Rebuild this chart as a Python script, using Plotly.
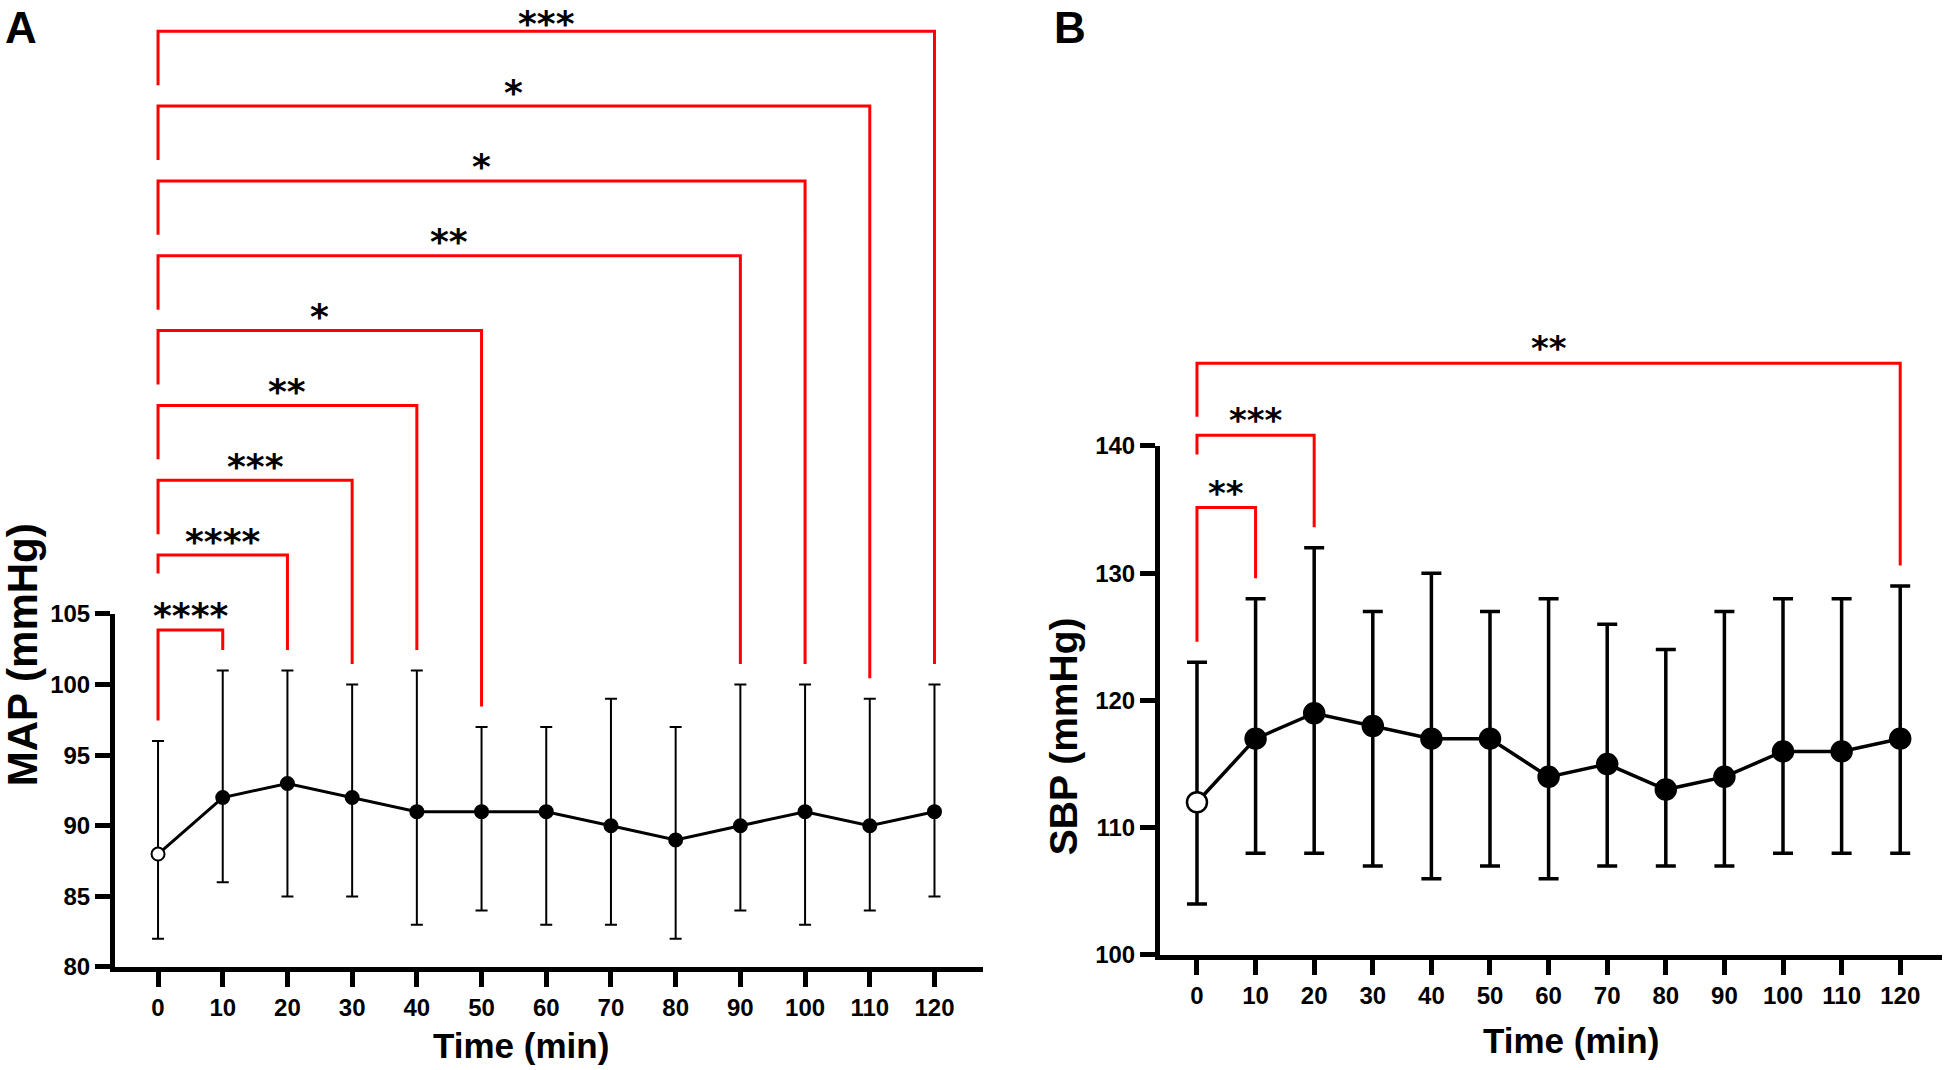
import plotly.graph_objects as go

# ---------------- data ----------------
time = [0, 10, 20, 30, 40, 50, 60, 70, 80, 90, 100, 110, 120]

map_mean = [88, 92, 93, 92, 91, 91, 91, 90, 89, 90, 91, 90, 91]
map_upper = [96, 101, 101, 100, 101, 97, 97, 99, 97, 100, 100, 99, 100]
map_lower = [82, 86, 85, 85, 83, 84, 83, 83, 82, 84, 83, 84, 85]

sbp_mean = [112, 117, 119, 118, 117, 117, 114, 115, 113, 114, 116, 116, 117]
sbp_upper = [123, 128, 132, 127, 130, 127, 128, 126, 124, 127, 128, 128, 129]
sbp_lower = [104, 108, 108, 107, 106, 107, 106, 107, 107, 107, 108, 108, 108]

map_y_ticks = [80, 85, 90, 95, 100, 105]
sbp_y_ticks = [100, 110, 120, 130, 140]
x_ticks = [0, 10, 20, 30, 40, 50, 60, 70, 80, 90, 100, 110, 120]

map_sig_times = [10, 20, 30, 40, 50, 90, 100, 110, 120]
map_sig_labels = ["****", "****", "***", "**", "*", "**", "*", "*", "***"]
sbp_sig_times = [10, 20, 120]
sbp_sig_labels = ["**", "***", "**"]

FONT = "Liberation Sans, Arial, sans-serif"
RED = "#FF0000"


def bracket_paths(sig_times, labels, upper, level0, step, gap, short_drop, long_drop):
    xs, ys, notes = [], [], []
    for i, (t, lab) in enumerate(zip(sig_times, labels)):
        lvl = level0 + i * step
        if i == 0:
            left_end = upper[0] + gap
        elif i == 1:
            left_end = lvl - short_drop
        else:
            left_end = lvl - long_drop
        right_end = upper[time.index(t)] + gap
        xs += [0, 0, t, t, None]
        ys += [left_end, lvl, lvl, right_end, None]
        notes.append((t / 2, lvl, lab))
    return xs, ys, notes


def err(mean, upper, lower):
    return dict(type="data", symmetric=False,
                array=[u - m for u, m in zip(upper, mean)],
                arrayminus=[m - l for m, l in zip(mean, lower)])


fig = go.Figure()

# ---------- panel A ----------
ea = err(map_mean, map_upper, map_lower)
ea.update(color="black", thickness=2, width=6)
fig.add_trace(go.Scatter(
    x=time, y=map_mean, mode="lines+markers", xaxis="x", yaxis="y",
    line=dict(color="black", width=3),
    marker=dict(size=13, color=["white"] + ["black"] * (len(time) - 1),
                line=dict(color="black", width=2)),
    error_y=ea, showlegend=False, hoverinfo="skip"))

bx, by, bnotes_a = bracket_paths(map_sig_times, map_sig_labels, map_upper,
                                 103.87, 5.30, 1.45, 1.3, 3.82)
fig.add_trace(go.Scatter(x=bx, y=by, mode="lines", xaxis="x", yaxis="y3",
                         line=dict(color=RED, width=3), showlegend=False,
                         hoverinfo="skip"))

# ---------- panel B ----------
eb = err(sbp_mean, sbp_upper, sbp_lower)
eb.update(color="black", thickness=3.5, width=10)
fig.add_trace(go.Scatter(
    x=time, y=sbp_mean, mode="lines+markers", xaxis="x2", yaxis="y2",
    line=dict(color="black", width=3.5),
    marker=dict(size=20, color=["white"] + ["black"] * (len(time) - 1),
                line=dict(color="black", width=2.5)),
    error_y=eb, showlegend=False, hoverinfo="skip"))

cx, cy, bnotes_b = bracket_paths(sbp_sig_times, sbp_sig_labels, sbp_upper,
                                 135.15, 5.67, 1.6, 1.5, 4.2)
fig.add_trace(go.Scatter(x=cx, y=cy, mode="lines", xaxis="x2", yaxis="y4",
                         line=dict(color=RED, width=3), showlegend=False,
                         hoverinfo="skip"))

annotations = []
for k, (xm, lvl, lab) in enumerate(bnotes_a):
    top_most = (k == len(bnotes_a) - 1)
    annotations.append(dict(x=xm, y=lvl, xref="x", yref="y3", text=lab,
                            showarrow=False, yanchor="middle",
                            yshift=8 if top_most else 14,
                            font=dict(family="DejaVu Sans", size=36, color="black",
                                      weight="bold")))
for (xm, lvl, lab) in bnotes_b:
    annotations.append(dict(x=xm, y=lvl, xref="x2", yref="y4", text=lab,
                            showarrow=False, yanchor="middle", yshift=15,
                            font=dict(family="DejaVu Sans", size=34, color="black",
                                      weight="bold")))

annotations += [
    dict(text="A", x=0.0015, y=0.999, xref="paper", yref="paper", xanchor="left",
         yanchor="top", showarrow=False,
         font=dict(family=FONT, size=44, color="black", weight="bold")),
    dict(text="B", x=0.5410, y=0.999, xref="paper", yref="paper", xanchor="left",
         yanchor="top", showarrow=False,
         font=dict(family=FONT, size=44, color="black", weight="bold")),
    dict(text="MAP (mmHg)", x=0.0115, y=0.388, xref="paper", yref="paper",
         textangle=-90, showarrow=False, xanchor="center", yanchor="middle",
         font=dict(family=FONT, size=42, color="black", weight="bold")),
    dict(text="SBP (mmHg)", x=0.5468, y=0.312, xref="paper", yref="paper",
         textangle=-90, showarrow=False, xanchor="center", yanchor="middle",
         font=dict(family=FONT, size=39, color="black", weight="bold")),
    dict(text="Time (min)", x=0.268, y=0.0225, xref="paper", yref="paper",
         showarrow=False, xanchor="center", yanchor="middle",
         font=dict(family=FONT, size=35, color="black", weight="bold")),
    dict(text="Time (min)", x=0.8081, y=0.028, xref="paper", yref="paper",
         showarrow=False, xanchor="center", yanchor="middle",
         font=dict(family=FONT, size=35, color="black", weight="bold")),
]

axis_common = dict(showline=True, linewidth=5, linecolor="black", ticks="outside",
                   ticklen=15, tickwidth=5, tickcolor="black", showgrid=False,
                   zeroline=False, fixedrange=True, automargin=False)
tick_font = dict(family=FONT, size=24, color="black", weight="bold")

fig.update_layout(
    template="none",
    width=1944, height=1070, autosize=False,
    margin=dict(l=0, r=0, t=0, b=0, pad=0, autoexpand=False),
    paper_bgcolor="white", plot_bgcolor="rgba(0,0,0,0)",
    showlegend=False,
    xaxis=dict(domain=[0.05916, 0.50566], range=[-6.65, 127.5], anchor="y",
               tickvals=x_ticks, ticktext=[str(v) for v in x_ticks],
               tickfont=tick_font, **axis_common),
    yaxis=dict(domain=[0.09626, 0.42617], range=[80, 105], anchor="x",
               tickvals=map_y_ticks, ticktext=[str(v) for v in map_y_ticks],
               tickfont=tick_font, **axis_common),
    yaxis3=dict(domain=[0.09626, 1.0], range=[80, 148.48], anchor="x",
                visible=False, fixedrange=True, automargin=False),
    xaxis2=dict(domain=[0.59671, 0.99897], range=[-6.31, 127.13], anchor="y2",
                tickvals=x_ticks, ticktext=[str(v) for v in x_ticks],
                tickfont=tick_font, **axis_common),
    yaxis2=dict(domain=[0.10748, 0.58318], range=[100, 140], anchor="x2",
                tickvals=sbp_y_ticks, ticktext=[str(v) for v in sbp_y_ticks],
                tickfont=tick_font, **axis_common),
    yaxis4=dict(domain=[0.10748, 1.0], range=[100, 175.02], anchor="x2",
                visible=False, fixedrange=True, automargin=False),
    annotations=annotations,
)

fig.write_html("out.html",
               config={"displayModeBar": False},
               post_script="document.body.style.margin='0';"
                           "document.body.style.overflow='hidden';")
